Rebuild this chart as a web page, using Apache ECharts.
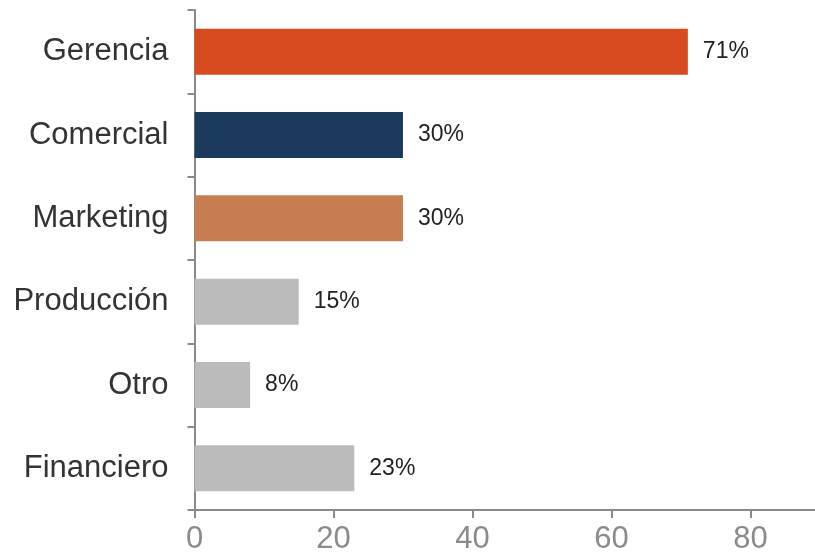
<!DOCTYPE html>
<html>
<head>
<meta charset="utf-8">
<script src="https://cdn.jsdelivr.net/npm/echarts@6/dist/echarts.min.js"></script>
<style>
  html, body { margin: 0; padding: 0; background: #ffffff; }
  #chart { width: 815px; height: 555px; }
</style>
</head>
<body>
<div id="chart"></div>
<script>
// Areas, listed top to bottom
const categories = ['Gerencia', 'Comercial', 'Marketing', 'Producción', 'Otro', 'Financiero'];
// Share per area, in percent
const values = [71, 30, 30, 15, 8, 23];
// Bar fill per area
const barColors = ['#D84B20', '#1C3A5C', '#C77D51', '#BBBBBB', '#BBBBBB', '#BBBBBB'];
// Value axis ticks
const xTicks = [0, 20, 40, 60, 80];

const axisGray = '#8A8A8A';
const font = '"Liberation Sans", Arial, Helvetica, sans-serif';

const chart = echarts.init(document.getElementById('chart'), null, { renderer: 'canvas' });

chart.setOption({
  animation: false,
  backgroundColor: '#ffffff',
  grid: { left: 194.5, right: 0, top: 10, bottom: 42.5, containLabel: false },
  xAxis: {
    type: 'value',
    min: xTicks[0],
    max: 89.3,
    interval: xTicks[1] - xTicks[0],
    splitLine: { show: false },
    axisLine: { show: true, lineStyle: { color: axisGray, width: 2 } },
    axisTick: { show: true, length: 8, lineStyle: { color: axisGray, width: 2 } },
    axisLabel: {
      color: axisGray,
      fontFamily: font,
      fontSize: 31,
      margin: 14,
      showMaxLabel: false,
      formatter: v => (xTicks.indexOf(v) >= 0 ? String(v) : '')
    }
  },
  yAxis: {
    type: 'category',
    data: categories,
    inverse: true,
    axisLine: { show: true, lineStyle: { color: axisGray, width: 2 } },
    axisTick: { show: true, length: 7, lineStyle: { color: axisGray, width: 2 } },
    axisLabel: {
      color: '#333333',
      fontFamily: font,
      fontSize: 31,
      margin: 26
    }
  },
  series: [{
    type: 'bar',
    barWidth: 46,
    data: values.map((v, i) => ({ value: v, itemStyle: { color: barColors[i] } })),
    label: {
      show: true,
      position: 'right',
      distance: 15,
      formatter: '{c}%',
      color: '#222222',
      fontFamily: font,
      fontSize: 23
    }
  }]
});
</script>
</body>
</html>
